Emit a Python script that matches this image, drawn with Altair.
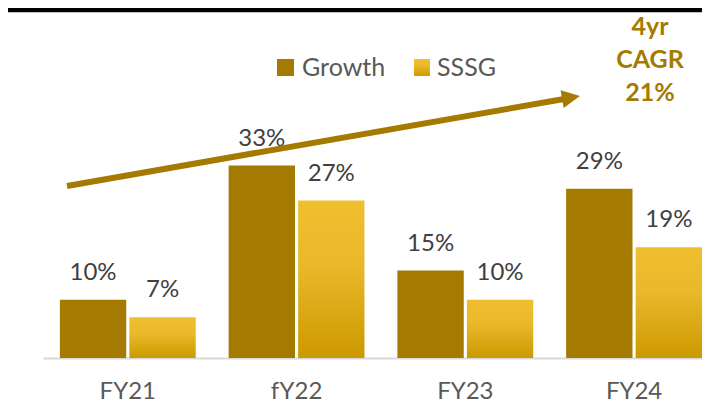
import altair as alt
import pandas as pd

years = ["FY21", "fY22", "FY23", "FY24"]
growth = [10, 33, 15, 29]
sssg = [7, 27, 10, 19]
series = ["Growth", "SSSG"]
cagr_text = ["4yr", "CAGR", "21%"]

rows = []
for i, y in enumerate(years):
    rows.append({"year": y, "series": "Growth", "value": growth[i]})
    rows.append({"year": y, "series": "SSSG", "value": sssg[i]})
df = pd.DataFrame(rows)

GOLD = "#A47A00"
TEXT = "#404040"
FONT = "Lato"

sssg_grad = alt.Gradient(
    gradient="linear",
    stops=[
        alt.GradientStop(offset=0, color="#F0BF30"),
        alt.GradientStop(offset=0.4, color="#EAB92B"),
        alt.GradientStop(offset=1, color="#CC9900"),
    ],
    x1=0, x2=0, y1=0, y2=1,
)

x_enc = alt.X(
    "year:N",
    sort=years,
    scale=alt.Scale(paddingInner=0.195, paddingOuter=0.05, align=1),
    axis=alt.Axis(
        title=None, ticks=False, tickSize=0, domainColor="#D9D9D9", domainWidth=2,
        labelFont=FONT, labelFontSize=24, labelColor="#595959", labelAngle=0,
        labelBaseline="alphabetic", labelPadding=40, grid=False,
    ),
)
xo_enc = alt.XOffset("series:N", sort=series, scale=alt.Scale(paddingInner=0.045, paddingOuter=0))
y_enc = alt.Y("value:Q", scale=alt.Scale(domain=[0, 60], nice=False), axis=None)

base = alt.Chart(df).encode(x=x_enc, xOffset=xo_enc, y=y_enc)

bars_g = base.transform_filter(alt.datum.series == "Growth").mark_bar(color=GOLD)
bars_s = base.transform_filter(alt.datum.series == "SSSG").mark_bar(color=sssg_grad)
labels = base.transform_calculate(label="datum.value + '%'").mark_text(
    font=FONT, fontSize=24, color=TEXT, baseline="alphabetic", dy=-20
).encode(text="label:N")

one = alt.Data(values=[{}])

top_line = alt.Chart(one).mark_rule(color="#000000", strokeWidth=4.5).encode(
    x=alt.value(-40), x2=alt.value(680), y=alt.value(2)
)
arrow_line = alt.Chart(one).mark_rule(color=GOLD, strokeWidth=6, strokeCap="butt").encode(
    x=alt.value(24), y=alt.value(178), x2=alt.value(521), y2=alt.value(91)
)
arrow_head = alt.Chart(one).mark_point(
    shape="M -1 -1 L 1 0 L -1 1 Z", filled=True, color=GOLD, opacity=1, size=324, angle=350
).encode(x=alt.value(528), y=alt.value(89.5))

leg_g = alt.Chart(one).mark_rect(color=GOLD).encode(
    x=alt.value(234), x2=alt.value(251), y=alt.value(51), y2=alt.value(68)
)
leg_s = alt.Chart(one).mark_rect(color=sssg_grad).encode(
    x=alt.value(371), x2=alt.value(387), y=alt.value(51), y2=alt.value(68)
)
leg_gt = alt.Chart(one).mark_text(
    text="Growth", font=FONT, fontSize=25, color="#595959", align="left", baseline="alphabetic"
).encode(x=alt.value(259), y=alt.value(68))
leg_st = alt.Chart(one).mark_text(
    text="SSSG", font=FONT, fontSize=25, color="#595959", align="left", baseline="alphabetic"
).encode(x=alt.value(394), y=alt.value(68))

cagr = alt.Chart(one).mark_text(
    text=cagr_text, font=FONT, fontSize=25, fontWeight="bold", color=GOLD,
    align="center", baseline="alphabetic", lineHeight=33,
).encode(x=alt.value(607), y=alt.value(27))

chart = alt.layer(
    bars_g, bars_s, labels, top_line, arrow_line, arrow_head, leg_g, leg_s, leg_gt, leg_st, cagr
).properties(
    width=659, height=350,
    autosize=alt.AutoSizeParams(type="none"),
    padding={"left": 35, "top": 0, "right": 0, "bottom": 45},
).configure_view(stroke=None)

chart.save("out.html", embed_options={"renderer": "svg", "actions": False})
